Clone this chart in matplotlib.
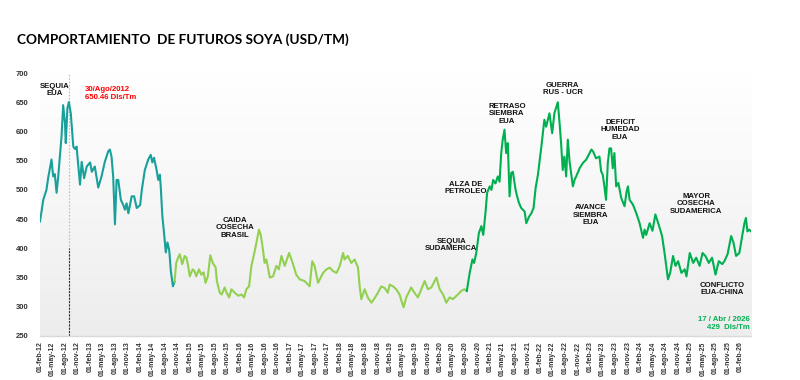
import matplotlib.pyplot as plt
import matplotlib.dates as mdates
import numpy as np
import pandas as pd
from matplotlib.colors import LinearSegmentedColormap

# 2012 - oct 2014 (teal)
teal_dates = [
    "2012-02-01", "2012-02-25", "2012-03-19", "2012-04-01", "2012-04-25", "2012-05-07",
    "2012-05-19", "2012-06-01", "2012-06-13", "2012-07-07", "2012-07-19", "2012-08-01",
    "2012-08-07", "2012-08-19", "2012-08-30", "2012-09-13", "2012-10-01", "2012-10-13",
    "2012-10-25", "2012-11-07", "2012-11-19", "2012-12-01", "2012-12-19", "2013-01-07",
    "2013-02-01", "2013-02-13", "2013-03-07", "2013-04-01", "2013-04-25", "2013-05-19",
    "2013-06-13", "2013-06-25", "2013-07-07", "2013-07-19", "2013-08-01", "2013-08-13",
    "2013-08-25", "2013-09-13", "2013-10-01", "2013-10-13", "2013-10-25", "2013-11-07",
    "2013-12-01", "2013-12-19", "2014-01-07", "2014-02-01", "2014-02-13", "2014-03-07",
    "2014-04-01", "2014-04-19", "2014-05-01", "2014-05-13", "2014-06-01", "2014-06-13",
    "2014-06-25", "2014-07-01", "2014-07-13", "2014-07-25", "2014-08-07", "2014-08-19",
    "2014-09-01", "2014-09-13", "2014-09-28", "2014-10-10",
]
teal_prices = [
    446, 483, 500, 521, 552, 523,
    527, 495, 523, 591, 645, 615,
    580, 640, 650.46, 630, 574, 570,
    574, 540, 509, 548, 520, 540,
    547, 531, 540, 504, 523, 548,
    566, 569, 557, 523, 441, 517,
    517, 483, 474, 466, 477, 460,
    489, 489, 469, 474, 500, 534,
    552, 560, 547, 555, 534, 517,
    526, 506, 455, 427, 393, 410,
    397, 361, 335, 343,
]

# oct 2014 - ago 2020 (light green)
lime_dates = [
    "2014-10-10", "2014-10-22", "2014-11-05", "2014-11-17", "2014-12-05", "2014-12-23",
    "2015-01-05", "2015-01-17", "2015-01-29", "2015-02-19", "2015-03-05", "2015-03-17",
    "2015-04-06", "2015-04-23", "2015-05-10", "2015-05-24", "2015-06-10", "2015-06-28",
    "2015-07-16", "2015-08-06", "2015-08-15", "2015-09-05", "2015-09-19", "2015-10-11",
    "2015-10-25", "2015-11-12", "2015-11-29", "2015-12-23", "2016-01-17", "2016-02-11",
    "2016-03-01", "2016-03-17", "2016-04-06", "2016-04-23", "2016-05-17", "2016-06-03",
    "2016-06-17", "2016-06-30", "2016-07-16", "2016-07-28", "2016-08-10", "2016-08-22",
    "2016-09-04", "2016-09-28", "2016-10-22", "2016-11-09", "2016-11-28", "2016-12-22",
    "2017-01-23", "2017-02-18", "2017-03-16", "2017-04-10", "2017-05-16", "2017-06-22",
    "2017-07-11", "2017-07-28", "2017-08-22", "2017-09-28", "2017-10-22", "2017-11-16",
    "2017-12-10", "2018-01-04", "2018-01-28", "2018-02-21", "2018-03-04", "2018-03-27",
    "2018-04-22", "2018-05-16", "2018-06-10", "2018-06-22", "2018-07-04", "2018-07-28",
    "2018-08-22", "2018-09-16", "2018-10-10", "2018-11-02", "2018-11-27", "2018-12-22",
    "2019-01-13", "2019-01-27", "2019-02-20", "2019-03-16", "2019-04-09", "2019-05-08",
    "2019-05-28", "2019-07-03", "2019-07-27", "2019-08-21", "2019-09-15", "2019-10-09",
    "2019-11-02", "2019-11-27", "2020-01-03", "2020-01-27", "2020-02-21", "2020-03-15",
    "2020-04-08", "2020-05-02", "2020-06-08", "2020-07-02", "2020-07-26", "2020-08-12",
]
lime_prices = [
    343, 375, 384, 390, 373, 387,
    384, 370, 352, 364, 361, 352,
    364, 355, 359, 341, 352, 388,
    375, 367, 344, 324, 321, 333,
    324, 316, 330, 324, 319, 321,
    316, 330, 335, 370, 395, 415,
    432, 423, 398, 375, 381, 367,
    350, 352, 370, 364, 387, 370,
    392, 375, 355, 347, 344, 335,
    378, 370, 341, 358, 364, 367,
    361, 358, 370, 392, 381, 387,
    375, 381, 367, 335, 313, 330,
    315, 307, 315, 324, 335, 332,
    324, 338, 335, 330, 321, 299,
    316, 333, 324, 316, 330, 344,
    330, 333, 350, 330, 321, 307,
    316, 313, 321, 327, 330, 327,
]

# ago 2020 - abr 2026 (green)
green_dates = [
    "2020-08-12", "2020-09-02", "2020-09-22", "2020-10-04", "2020-10-20", "2020-11-08",
    "2020-11-26", "2020-12-10", "2020-12-27", "2021-01-07", "2021-01-26", "2021-02-08",
    "2021-02-20", "2021-03-09", "2021-03-26", "2021-04-08", "2021-04-20", "2021-05-01",
    "2021-05-14", "2021-05-26", "2021-06-07", "2021-06-20", "2021-07-02", "2021-07-14",
    "2021-08-03", "2021-08-14", "2021-08-27", "2021-09-13", "2021-10-08", "2021-10-20",
    "2021-11-09", "2021-11-26", "2021-12-12", "2021-12-27", "2022-01-13", "2022-02-07",
    "2022-03-01", "2022-03-14", "2022-04-07", "2022-04-27", "2022-05-13", "2022-06-07",
    "2022-06-19", "2022-07-01", "2022-07-13", "2022-07-25", "2022-08-07", "2022-08-19",
    "2022-09-01", "2022-09-25", "2022-10-07", "2022-10-19", "2022-11-13", "2022-12-07",
    "2023-01-01", "2023-01-25", "2023-02-07", "2023-02-19", "2023-03-13", "2023-04-07",
    "2023-04-19", "2023-05-01", "2023-05-13", "2023-05-25", "2023-06-07", "2023-06-19",
    "2023-07-01", "2023-07-13", "2023-07-25", "2023-08-07", "2023-08-23", "2023-09-13",
    "2023-10-07", "2023-10-22", "2023-11-01", "2023-11-13", "2023-12-07", "2024-01-01",
    "2024-01-25", "2024-02-19", "2024-03-01", "2024-03-13", "2024-04-07", "2024-04-28",
    "2024-05-19", "2024-06-13", "2024-07-07", "2024-07-25", "2024-08-19", "2024-09-04",
    "2024-09-25", "2024-10-13", "2024-11-01", "2024-11-25", "2024-12-19", "2025-01-01",
    "2025-01-25", "2025-02-19", "2025-03-13", "2025-04-07", "2025-04-28", "2025-05-19",
    "2025-06-13", "2025-07-07", "2025-08-01", "2025-08-25", "2025-09-19", "2025-10-05",
    "2025-10-28", "2025-11-23", "2025-12-10", "2025-12-29", "2026-01-22", "2026-02-13",
    "2026-02-28", "2026-03-11", "2026-03-22", "2026-04-04", "2026-04-17",
]
green_prices = [
    327, 358, 381, 375, 392, 426,
    438, 423, 463, 495, 506, 500,
    517, 511, 523, 514, 563, 586,
    603, 563, 580, 489, 529, 531,
    500, 489, 478, 469, 463, 443,
    454, 460, 469, 503, 526, 574,
    620, 608, 631, 597, 631, 650,
    617, 580, 534, 557, 523, 586,
    548, 506, 517, 523, 537, 546,
    552, 563, 569, 566, 554, 557,
    532, 526, 506, 483, 546, 571,
    571, 537, 563, 506, 512, 486,
    472, 497, 506, 483, 475, 460,
    443, 418, 432, 423, 443, 430,
    458, 440, 421, 392, 347, 358,
    387, 370, 378, 358, 364, 352,
    392, 375, 384, 370, 392, 387,
    375, 384, 355, 378, 373, 378,
    390, 421, 410, 387, 392, 423,
    443, 452, 429, 432, 429,
]

yticks = [250, 300, 350, 400, 450, 500, 550, 600, 650, 700]
meses = ["ene", "feb", "mar", "abr", "may", "jun", "jul", "ago", "sep", "oct", "nov", "dic"]

# (text, date, value)
notes = [
    ("SEQUIA\nEUA", "2012-05-19", 671),
    ("CAIDA\nCOSECHA\nBRASIL", "2015-12-23", 435),
    ("SEQUIA\nSUDAMERICA", "2020-04-21", 406),
    ("ALZA DE\nPETROLEO", "2020-08-04", 503),
    ("RETRASO\nSIEMBRA\nEUA", "2021-06-01", 630),
    ("GUERRA\nRUS - UCR", "2022-07-13", 673),
    ("DEFICIT\nHUMEDAD\nEUA", "2023-09-05", 603),
    ("AVANCE\nSIEMBRA\nEUA", "2023-02-01", 457),
    ("MAYOR\nCOSECHA\nSUDAMERICA", "2025-03-13", 476),
    ("CONFLICTO\nEUA-CHINA", "2025-09-19", 330),
]

fig = plt.figure(figsize=(8, 3.8), dpi=100)
ax = fig.add_axes([40 / 800, 44 / 380, 711 / 800, 263 / 380])

# soft vertical gradient background
bg = LinearSegmentedColormap.from_list("bg", ["#ededed", "#ffffff"])
ax.imshow(np.linspace(0, 1, 256).reshape(-1, 1), extent=[0, 1, 0, 1], origin="lower",
          transform=ax.transAxes, cmap=bg, aspect="auto", zorder=0)

lw = 1.5
ax.plot(pd.to_datetime(teal_dates), teal_prices, color="#18a09b", lw=lw, zorder=3)
ax.plot(pd.to_datetime(lime_dates), lime_prices, color="#92d050", lw=lw, zorder=3)
ax.plot(pd.to_datetime(green_dates), green_prices, color="#00b050", lw=lw, zorder=3)

peak = pd.Timestamp("2012-08-30")
ax.plot([peak, peak], [250, 700], color="#bbbbbb", lw=0.8, ls=(0, (1.5, 1.5)), zorder=2)
ax.plot([peak, peak], [250, 400], color="#333333", lw=0.8, ls=(0, (2, 1)), zorder=2)

ax.set_xlim(pd.Timestamp("2012-02-01"), pd.Timestamp("2026-04-17"))
ax.set_ylim(250, 700)

ticks = pd.date_range("2012-02-01", "2026-02-01", freq="3MS")
ax.set_xticks(mdates.date2num(ticks))
ax.set_xticklabels([f"01-{meses[t.month - 1]}-{t.year % 100:02d}" for t in ticks],
                   rotation=90, fontsize=5, fontweight="bold", color="#333333",
                   family="Liberation Sans")
ax.set_yticks(yticks)
ax.set_yticklabels([str(v) for v in yticks], fontsize=5.5, fontweight="bold",
                   color="#333333", family="Liberation Sans")
ax.tick_params(axis="both", length=0)
ax.tick_params(axis="y", pad=8)
ax.tick_params(axis="x", pad=4)

for s in ["top", "right", "left"]:
    ax.spines[s].set_visible(False)
ax.spines["bottom"].set_color("#d9d9d9")
ax.spines["bottom"].set_linewidth(1)

for txt, d, v in notes:
    ax.text(pd.Timestamp(d), v, txt, ha="center", va="center", fontsize=5.6,
            fontweight="bold", color="#111111", family="Liberation Sans",
            linespacing=1.1, zorder=4)

ax.text(pd.Timestamp("2012-12-25"), 665, "30/Ago/2012\n650.46 Dls/Tm", ha="left",
        va="center", fontsize=5.6, fontweight="bold", color="#ff0000",
        family="Liberation Sans", linespacing=1.15, zorder=4)
ax.text(pd.Timestamp("2026-04-10"), 271, "17 / Abr / 2026\n429  Dls/Tm", ha="right",
        va="center", fontsize=5.6, fontweight="bold", color="#00b050",
        family="Liberation Sans", linespacing=1.15, multialignment="right", zorder=4)

fig.text(17 / 800, 1 - 40 / 380, "COMPORTAMIENTO  DE FUTUROS SOYA (USD/TM)",
         ha="left", va="center", fontsize=9.8, fontweight="bold", family="Lato",
         color="#000000")

fig.savefig("out.png", dpi=100)
